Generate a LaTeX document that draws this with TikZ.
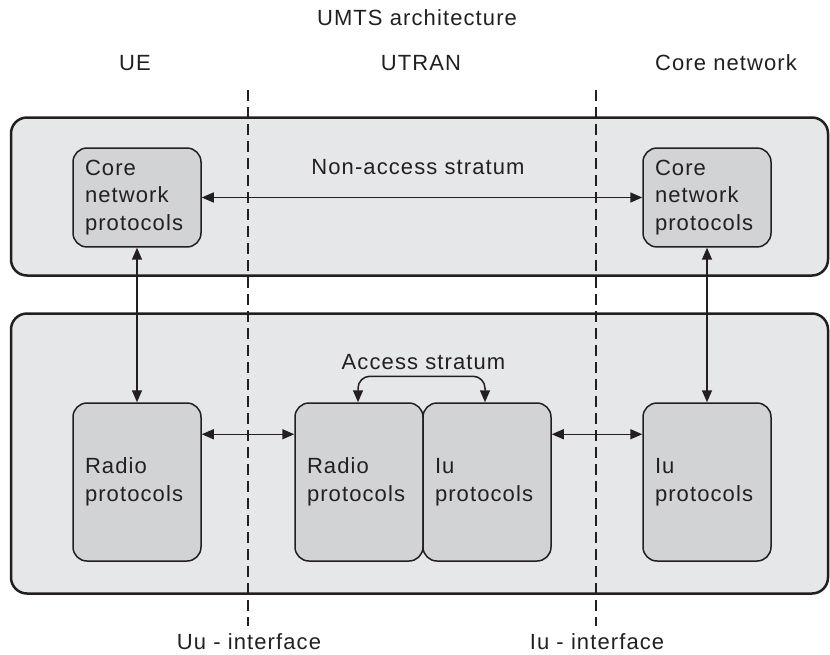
\documentclass[tikz,border=0pt]{standalone}
\usepackage{fontspec}
\setmainfont{Liberation Sans}[LetterSpace=5]
\usetikzlibrary{arrows.meta}
\definecolor{outerfill}{HTML}{E6E7E8}
\definecolor{innerfill}{HTML}{D1D3D4}
\definecolor{ink}{HTML}{231F20}
\begin{document}
\begin{tikzpicture}[x=1pt,y=-1pt,
  font=\fontsize{22}{27.5}\selectfont,
  outerbox/.style={draw=ink, line width=2.5pt, fill=outerfill, rounded corners=16pt, inner sep=0pt},
  innerbox/.style={draw=ink, line width=1.5pt, fill=innerfill, rounded corners=14pt,
    text width=104pt, inner sep=12pt, align=left, minimum width=128pt, text=ink},
  arr/.style={draw=ink, line width=1.5pt, {Triangle[length=12pt,width=10pt]}-{Triangle[length=12pt,width=10pt]}},
  divider/.style={draw=ink, line width=1.5pt, dash pattern=on 11pt off 6pt},
  lbl/.style={text=ink, inner sep=0pt, anchor=base}]
\useasboundingbox (0,0) rectangle (830,654);
% outer strata boxes
\node[outerbox, minimum width=817pt, minimum height=158pt] (nas) at (419.5,196.5) {};
\node[outerbox, minimum width=817pt, minimum height=280pt] (as) at (419.5,453.5) {};
% inner boxes
\node[innerbox, minimum height=95pt] (cnl) at (137,197.5) {Core\\network\\protocols};
\node[innerbox, minimum height=95pt] (cnr) at (707,197.5) {Core\\network\\protocols};
\node[innerbox, minimum height=158pt] (rl) at (137,482) {Radio\\protocols};
\node[innerbox, minimum height=158pt] (rm) at (359,482) {Radio\\protocols};
\node[innerbox, minimum height=158pt] (im) at (487,482) {Iu\\protocols};
\node[innerbox, minimum height=158pt] (ir) at (707,482) {Iu\\protocols};
% dashed interface lines
\coordinate (d1t) at (248,90);
\coordinate (d1b) at (248,626);
\coordinate (d2t) at (596,90);
\coordinate (d2b) at (596,626);
\draw[divider] (d1t) -- (d1b);
\draw[divider] (d2t) -- (d2b);
% connectors
\draw[arr] (cnl.east) -- (cnr.west);
\draw[arr] (cnl.south) -- (rl.north);
\draw[arr] (cnr.south) -- (ir.north);
\draw[arr] ([yshift=-32pt]rl.north east) -- ([yshift=-32pt]rm.north west);
\draw[arr] ([yshift=-32pt]im.north east) -- ([yshift=-32pt]ir.north west);
\draw[arr, rounded corners=12pt] ([xshift=-1pt]rm.north) -- ++(0,-26) -| ([xshift=-2pt]im.north);
% labels
\node[lbl] (title) at (417,25) {UMTS architecture};
\node[lbl] (ue) at (135,70) {UE};
\node[lbl] (utran) at (421,70) {UTRAN};
\node[lbl] (core) at (726,70) {Core network};
\node[lbl] (naslbl) at (418,174) {Non-access stratum};
\node[lbl] (aslbl) at (423.5,369) {Access stratum};
\node[lbl] (uu) at (249,649) {Uu - interface};
\node[lbl] (iu) at (597,649) {Iu - interface};
\end{tikzpicture}
\end{document}
